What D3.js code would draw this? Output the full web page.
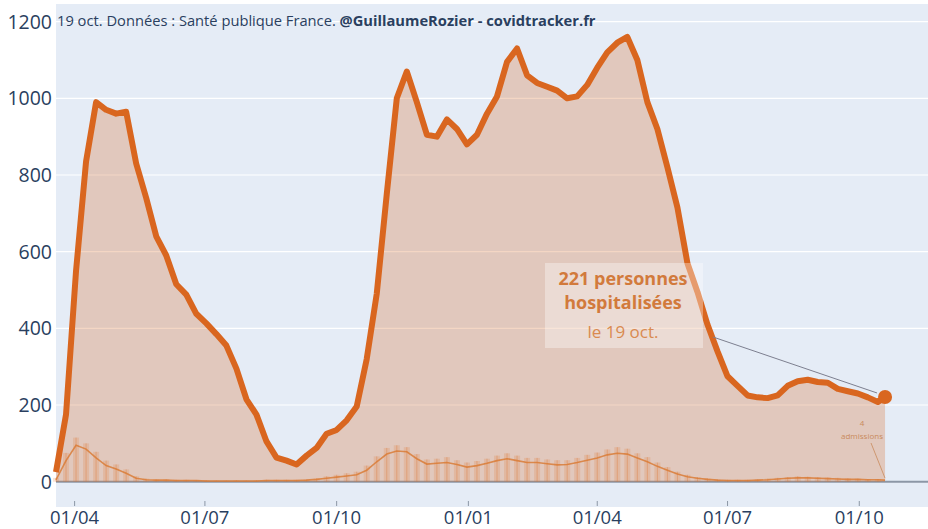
<!DOCTYPE html>
<html><head><meta charset="utf-8">
<script src="https://cdn.jsdelivr.net/npm/d3@7"></script>
<style>
html,body{margin:0;padding:0;background:#fff;}
svg{display:block;font-family:"Open Sans",sans-serif;}
</style></head>
<body><svg id="c" width="928" height="529"></svg>
<script>
// ---- data (weekly readings from 2020-03-19, step 7 days, plus final point) ----
const startDate = "2020-03-19";
const stepDays = 7;
const lastDate = "2021-10-19";
const hospitalises = [25,175,550,835,990,970,960,965,830,740,640,590,515,488,438,413,385,355,295,215,175,105,63,55,45,68,88,125,135,160,196,320,490,750,1000,1070,990,905,900,945,920,880,905,960,1005,1095,1130,1060,1040,1030,1020,1000,1005,1035,1080,1120,1145,1160,1100,990,920,820,715,570,495,410,340,275,250,225,220,218,225,250,262,266,260,258,242,236,230,220,208];
const lastHosp = 221;
const admissionsMoy = [5,55,95,85,62,42,33,22,9,5,4,4,3,3,3,2,2,2,2,2,2,3,3,3,3,4,6,9,12,15,18,30,52,72,80,78,60,46,48,50,45,38,42,48,55,60,55,50,50,47,44,45,50,56,62,70,74,72,62,52,40,30,20,13,9,6,4,3,3,3,4,5,7,9,10,10,9,8,7,6,6,5,5];
const admissionsJour = [10,75,115,100,78,55,45,32,14,8,6,6,5,5,4,4,3,3,4,3,4,5,5,5,5,6,9,14,18,22,26,42,66,88,95,90,72,58,60,64,56,50,54,60,68,74,68,62,62,58,56,56,62,70,76,84,90,86,74,64,50,38,26,18,12,9,6,5,5,5,6,8,10,12,14,13,12,11,10,9,8,7,7];
const lastAdm = 4;
const yTicks = [0,200,400,600,800,1000,1200];
const xTickDates = ["2020-04-01","2020-07-01","2020-10-01","2021-01-01","2021-04-01","2021-07-01","2021-10-01"];
const sourceText = "19 oct. Données : Santé publique France. ";
const sourceBold = "@GuillaumeRozier - covidtracker.fr";
const annotLines = ["221 personnes","hospitalisées","le 19 oct."];
const admLines = ["4","admissions"];

(function(){
const parse = d3.timeParse("%Y-%m-%d");
const t0 = parse(startDate);
const dates = hospitalises.map((_, i) => d3.timeDay.offset(t0, stepDays * i));
const tLast = parse(lastDate);
const hospData = hospitalises.map((v, i) => ({d: dates[i], v})).concat([{d: tLast, v: lastHosp}]);
const admData = admissionsMoy.map((v, i) => ({d: dates[i], v})).concat([{d: tLast, v: lastAdm}]);
const barData = admissionsJour.map((v, i) => ({d: dates[i], v}));

const pL = 56, pR = 928, pT = 4, pB = 507;
const x = d3.scaleTime().domain([t0, parse("2021-11-18")]).range([pL, pR]);
const y = d3.scaleLinear().domain([-66, 1246]).range([pB, pT]);

const svg = d3.select("#c");
svg.append("rect").attr("x", pL).attr("y", pT).attr("width", pR - pL).attr("height", pB - pT).attr("fill", "#e5ecf6");

svg.append("g").selectAll("line").data(yTicks.filter(v => v > 0)).join("line")
  .attr("x1", pL).attr("x2", pR).attr("y1", d => y(d)).attr("y2", d => y(d))
  .attr("stroke", "#fff").attr("stroke-width", 1.2);

svg.append("line").attr("x1", pL).attr("x2", pR).attr("y1", y(0)).attr("y2", y(0))
  .attr("stroke", "#8c97a6").attr("stroke-width", 2);

const area = d3.area().x(d => x(d.d)).y0(y(0)).y1(d => y(d.v));
svg.append("path").datum(hospData).attr("d", area).attr("fill", "rgba(214,104,36,0.27)");

const bw = x(d3.timeDay.offset(t0, stepDays)) - x(t0);
svg.append("g").selectAll("rect").data(barData).join("rect")
  .attr("x", d => x(d.d) - bw * 0.3).attr("width", bw * 0.6)
  .attr("y", d => y(d.v)).attr("height", d => y(0) - y(d.v))
  .attr("fill", "rgba(225,120,50,0.2)");
svg.append("g").selectAll("line").data(barData).join("line")
  .attr("x1", d => x(d.d)).attr("x2", d => x(d.d))
  .attr("y1", d => y(d.v)).attr("y2", y(0))
  .attr("stroke", "rgba(220,115,45,0.35)").attr("stroke-width", 1);

const line = d3.line().x(d => x(d.d)).y(d => y(d.v));
svg.append("path").datum(admData).attr("d", line).attr("fill", "none")
  .attr("stroke", "#d9782f").attr("stroke-width", 1.6).attr("stroke-opacity", 0.8);

svg.append("path").datum(hospData).attr("d", line).attr("fill", "none")
  .attr("stroke", "#d9661f").attr("stroke-width", 6).attr("stroke-linejoin", "round");

const lp = hospData[hospData.length - 1];
svg.append("circle").attr("cx", x(lp.d)).attr("cy", y(lp.v)).attr("r", 7).attr("fill", "#d9661f");

svg.append("g").selectAll("text").data(yTicks).join("text")
  .attr("x", 52).attr("y", d => y(d) + 7).attr("text-anchor", "end")
  .attr("font-size", 19.5).attr("fill", "#2a3f5f").text(d => d);

const xt = xTickDates.map(parse);
svg.append("g").selectAll("line").data(xt).join("line")
  .attr("x1", d => x(d)).attr("x2", d => x(d)).attr("y1", 501).attr("y2", 506)
  .attr("stroke", "#8c97a6").attr("stroke-width", 1);
svg.append("g").selectAll("text").data(xt).join("text")
  .attr("x", d => x(d)).attr("y", 524).attr("text-anchor", "middle")
  .attr("font-size", 18.5).attr("fill", "#2a3f5f").text(d3.timeFormat("%d/%m"));

const src = svg.append("text").attr("x", 57).attr("y", 26).attr("font-size", 14.7).attr("fill", "#2a3f5f");
src.append("tspan").text(sourceText);
src.append("tspan").attr("font-weight", "bold").text(sourceBold);

svg.append("line").attr("x1", 713).attr("y1", 337).attr("x2", x(lp.d) - 8).attr("y2", y(lp.v) - 4)
  .attr("stroke", "#7d7f8f").attr("stroke-width", 1);
svg.append("rect").attr("x", 545).attr("y", 263).attr("width", 158).attr("height", 85)
  .attr("fill", "rgba(255,255,255,0.35)");
const ax = 623;
svg.append("text").attr("x", ax).attr("y", 285).attr("text-anchor", "middle").attr("font-size", 18)
  .attr("font-weight", "bold").attr("fill", "#d27a3c").text(annotLines[0]);
svg.append("text").attr("x", ax).attr("y", 309).attr("text-anchor", "middle").attr("font-size", 18)
  .attr("font-weight", "bold").attr("fill", "#d27a3c").text(annotLines[1]);
svg.append("text").attr("x", ax).attr("y", 338).attr("text-anchor", "middle").attr("font-size", 17)
  .attr("fill", "#d98a50").text(annotLines[2]);

const la = admData[admData.length - 1];
svg.append("line").attr("x1", 871).attr("y1", 443).attr("x2", x(la.d)).attr("y2", y(la.v) - 2)
  .attr("stroke", "#c98a5c").attr("stroke-width", 0.8);
svg.append("text").attr("x", 862).attr("y", 426).attr("text-anchor", "middle").attr("font-size", 8)
  .attr("fill", "#c98a5c").text(admLines[0]);
svg.append("text").attr("x", 862).attr("y", 439).attr("text-anchor", "middle").attr("font-size", 8)
  .attr("fill", "#c98a5c").text(admLines[1]);
})();
</script></body></html>
